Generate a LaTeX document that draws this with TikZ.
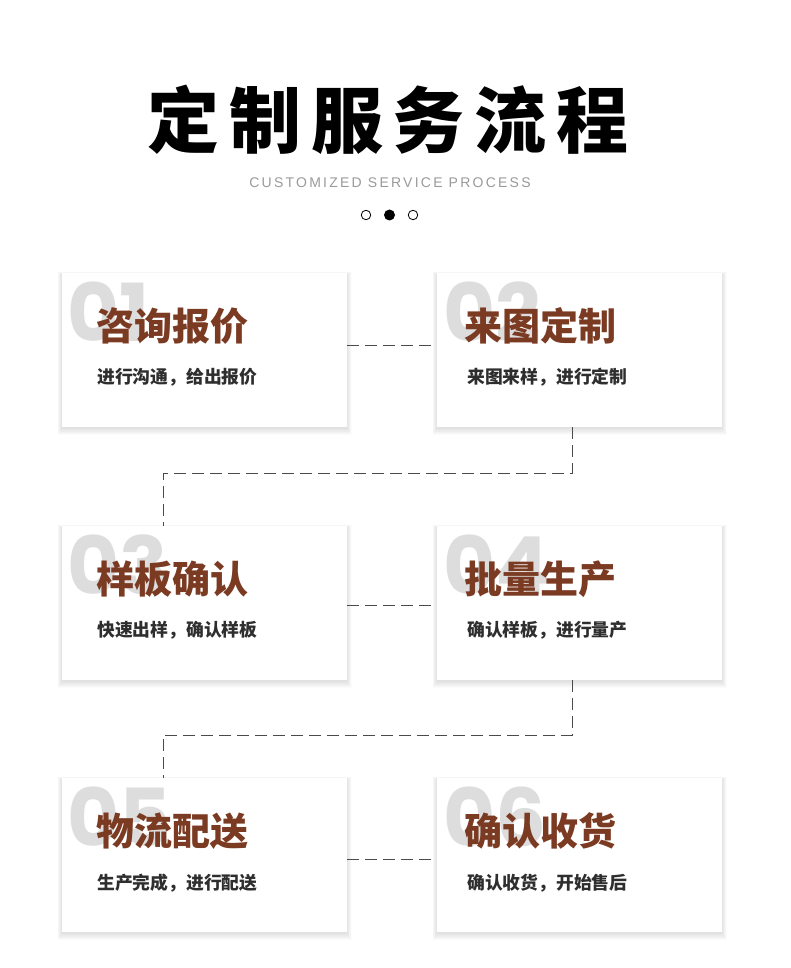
\documentclass[tikz,border=0pt]{standalone}
\usepackage{fontspec}
\newfontfamily\cjk{Noto Sans CJK SC}
\newfontfamily\numfont{Poppins}
\newfontfamily\latfont{Liberation Sans}
\usetikzlibrary{calc}
\definecolor{brown1}{HTML}{7B3A22}
\definecolor{numgray}{HTML}{DDDDDD}
\definecolor{subgray}{HTML}{9A9A9A}
\definecolor{txt}{HTML}{2E2E2E}
\definecolor{dashc}{HTML}{4A4A4A}
\tikzset{
  card/.style={fill=white, minimum width=285pt, minimum height=154pt, inner sep=0pt},
  bignum/.style={anchor=base west, inner sep=0pt, text=numgray, font=\numfont\bfseries\fontsize{80}{80}\selectfont},
  ttl/.style={anchor=base west, inner sep=0pt, text=brown1, font=\cjk\bfseries\fontsize{38}{38}\selectfont},
  sub/.style={anchor=base west, inner sep=0pt, text=txt, font=\cjk\bfseries\fontsize{17.8}{17.8}\selectfont},
  conn/.style={draw=dashc, line width=1pt, dash pattern=on 12pt off 6pt},
}
\newcommand{\cardshadow}[4]{%
  \foreach \s in {1,...,10}{
    \fill[black, opacity=0.012] ({#1-\s*0.45},{#2+2-\s*0.35}) rectangle ({#3+\s*0.45},{#4+1+\s*0.7});
  }%
}
\begin{document}
\begin{tikzpicture}[x=1pt,y=-1pt]
\useasboundingbox (0,0) rectangle (790,968);
\fill[white] (0,0) rectangle (790,968);

% header
\node[inner sep=0pt, font=\cjk\bfseries\fontsize{72}{72}\selectfont\addfontfeature{LetterSpace=13.5}, text=black] (title) at (388,120) {定制服务流程};
\node[inner sep=0pt, font=\latfont\fontsize{14}{14}\selectfont\addfontfeature{LetterSpace=16}, text=subgray] (eng) at (390,183) {CUSTOMIZED SERVICE PROCESS};
\node[circle, draw=black, line width=0.8pt, minimum size=9.5pt, inner sep=0pt] (d1) at (366,215) {};
\node[circle, fill=black, minimum size=11pt, inner sep=0pt] (d2) at (389.5,215) {};
\node[circle, draw=black, line width=0.8pt, minimum size=9.5pt, inner sep=0pt] (d3) at (413,215) {};

% shadows
\cardshadow{62}{273}{347}{427}
\cardshadow{437}{273}{722}{427}
\cardshadow{62}{526}{347}{680}
\cardshadow{437}{526}{722}{680}
\cardshadow{62}{778}{347}{932}
\cardshadow{437}{778}{722}{932}

% cards
\node[card] (b1) at (204.5,350) {};
\node[card] (b2) at (579.5,350) {};
\node[card] (b3) at (204.5,603) {};
\node[card] (b4) at (579.5,603) {};
\node[card] (b5) at (204.5,855) {};
\node[card] (b6) at (579.5,855) {};

% numbers
\node[bignum] (n1) at (67,341) {01};
\node[bignum] (n2) at (443,341) {02};
\node[bignum] (n3) at (67,594) {03};
\node[bignum] (n4) at (443,594) {04};
\node[bignum] (n5) at (67,846) {05};
\node[bignum] (n6) at (443,846) {06};

% titles
\node[ttl] (t1) at (96,340) {咨询报价};
\node[ttl] (t2) at (464,340) {来图定制};
\node[ttl] (t3) at (96,593) {样板确认};
\node[ttl] (t4) at (464,593) {批量生产};
\node[ttl] (t5) at (96,845) {物流配送};
\node[ttl] (t6) at (464,845) {确认收货};

% subtitles
\node[sub] (s1) at (97,383) {进行沟通，给出报价};
\node[sub] (s2) at (467,383) {来图来样，进行定制};
\node[sub] (s3) at (97,636) {快速出样，确认样板};
\node[sub] (s4) at (467,636) {确认样板，进行量产};
\node[sub] (s5) at (97,889) {生产完成，进行配送};
\node[sub] (s6) at (467,889) {确认收货，开始售后};

% connectors
\draw[conn] ([yshift=5pt]b1.east) -- ([yshift=5pt]b2.west);
\draw[conn] ([yshift=-2pt]b3.east) -- ([yshift=-2pt]b4.west);
\draw[conn] ([yshift=-4pt]b5.east) -- ([yshift=-4pt]b6.west);
\draw[conn] ([xshift=-7.5pt]b2.south) -- ++(0,46) -| ([xshift=-41.5pt]b3.north);
\draw[conn] ([xshift=-7.5pt]b4.south) -- ++(0,55) -| ([xshift=-41.5pt]b5.north);
\end{tikzpicture}
\end{document}
